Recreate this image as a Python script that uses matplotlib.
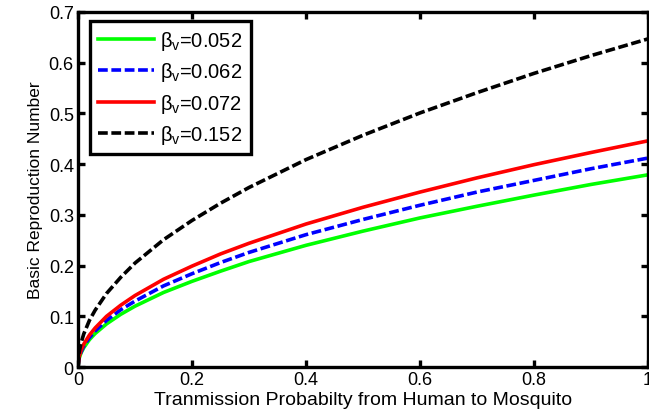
import numpy as np
import matplotlib
matplotlib.use("Agg")
import matplotlib.pyplot as plt

plt.rcParams['font.family'] = ['Liberation Sans', 'DejaVu Sans']
plt.rcParams['mathtext.fontset'] = 'custom'
plt.rcParams['mathtext.rm'] = 'Liberation Sans'
plt.rcParams['mathtext.it'] = 'Liberation Sans'
plt.rcParams['mathtext.bf'] = 'Liberation Sans'

# transmission probability (x) and R0
p_hm = [0, 0.002, 0.005, 0.01, 0.02, 0.03, 0.05, 0.075, 0.1, 0.15, 0.2, 0.25, 0.3, 0.4,
        0.5, 0.6, 0.7, 0.8, 0.9, 1.0]
r0_052 = [0, 0.017, 0.027, 0.038, 0.054, 0.066, 0.085, 0.104, 0.120, 0.147, 0.169, 0.189,
          0.208, 0.240, 0.268, 0.294, 0.317, 0.339, 0.360, 0.379]
r0_062 = [0, 0.018, 0.029, 0.041, 0.058, 0.071, 0.092, 0.113, 0.130, 0.160, 0.184, 0.206,
          0.226, 0.261, 0.291, 0.319, 0.345, 0.368, 0.391, 0.412]
r0_072 = [0, 0.020, 0.032, 0.045, 0.063, 0.077, 0.100, 0.122, 0.141, 0.173, 0.199, 0.223,
          0.244, 0.282, 0.315, 0.345, 0.373, 0.399, 0.423, 0.446]
r0_152 = [0, 0.029, 0.046, 0.065, 0.092, 0.112, 0.145, 0.177, 0.205, 0.251, 0.289, 0.323,
          0.354, 0.409, 0.457, 0.501, 0.541, 0.579, 0.614, 0.647]

beta_labels = ["0.052", "0.062", "0.072", "0.152"]
xticks = [0, 0.2, 0.4, 0.6, 0.8, 1]
xtick_labels = ["0", "0.2", "0.4", "0.6", "0.8", "1"]
yticks = [0, 0.1, 0.2, 0.3, 0.4, 0.5, 0.6, 0.7]
ytick_labels = ["0", "0.1", "0.2", "0.3", "0.4", "0.5", "0.6", "0.7"]

fig = plt.figure(figsize=(6.49, 4.14), dpi=100)
ax = fig.add_axes([0.1202, 0.111, 0.8783, 0.8576])

lw = 2.6
dash = (2.7, 1.0)
ax.plot(p_hm, r0_052, color=(0, 1, 0), lw=lw, label=r"$\beta_v$=" + beta_labels[0])
ax.plot(p_hm, r0_062, color=(0, 0, 1), lw=lw, dashes=dash, label=r"$\beta_v$=" + beta_labels[1])
ax.plot(p_hm, r0_072, color=(1, 0, 0), lw=lw, label=r"$\beta_v$=" + beta_labels[2])
ax.plot(p_hm, r0_152, color="k", lw=lw, dashes=dash, label=r"$\beta_v$=" + beta_labels[3])

ax.set_xlim(0, 1)
ax.set_ylim(0, 0.7)
ax.set_xticks(xticks)
ax.set_xticklabels(xtick_labels)
ax.set_yticks(yticks)
ax.set_yticklabels(ytick_labels)
ax.tick_params(direction="in", length=5, width=2.4, top=True, right=True,
               labelsize=13, pad=3)
for s in ax.spines.values():
    s.set_linewidth(2.4)

ax.set_xlabel("Tranmission Probabilty from Human to Mosquito", fontsize=14, labelpad=2)
ax.set_ylabel("Basic Reproduction Number", fontsize=12.5, labelpad=4)

leg = ax.legend(loc="upper left", bbox_to_anchor=(0.021, 0.975), borderaxespad=0,
                fontsize=14.5, handlelength=2.8, handletextpad=0.3, labelspacing=0.42,
                borderpad=0.4, fancybox=False, framealpha=1, edgecolor="k")
leg.get_frame().set_linewidth(2.4)

fig.savefig("out.png", dpi=100)
